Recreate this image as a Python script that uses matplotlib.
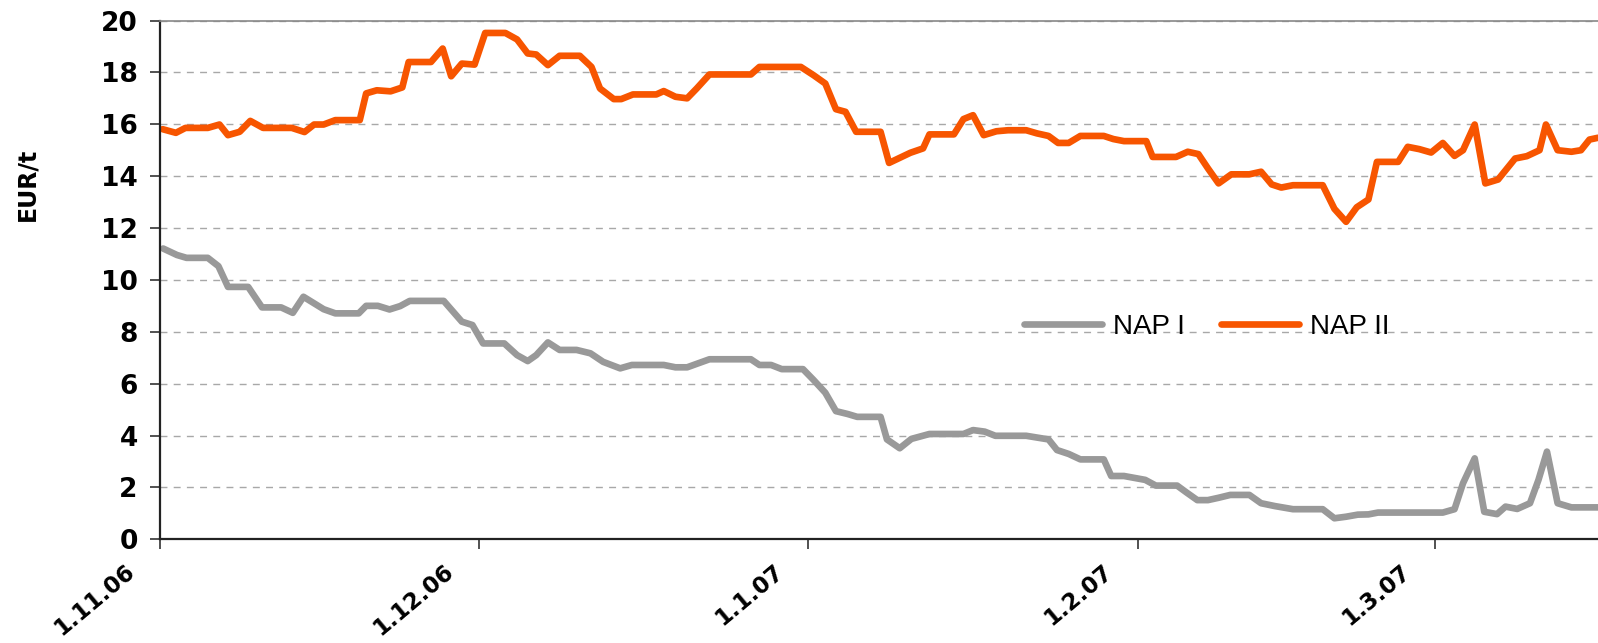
import matplotlib
matplotlib.use("Agg")
import matplotlib.pyplot as plt
from matplotlib.transforms import ScaledTranslation

# days since 1.11.06 and EUR/t values
nap2_day = [0.25, 1.5, 2.4, 4.5, 5.6, 6.4, 7.5, 8.5, 9.7, 12.4, 13.6, 14.5, 15.4, 16.5, 18.8,
            19.4, 20.4, 21.7, 22.8, 23.4, 25.5, 26.6, 27.4, 28.4, 29.6, 30.6, 32.5, 33.6, 34.6,
            35.4, 36.5, 37.6, 39.5, 40.6, 41.4, 42.7, 43.4, 44.5, 46.7, 47.4, 48.5, 49.6, 50.5,
            51.7, 55.6, 56.4, 60.3, 61.5, 62.6, 63.6, 64.5, 65.5, 67.8, 68.6, 70.6, 71.8, 72.4,
            74.7, 75.6, 76.5, 77.5, 78.7, 79.8, 81.5, 82.5, 83.6, 84.5, 85.5, 86.6, 88.8, 89.7,
            90.7, 92.8, 93.4, 95.6, 96.7, 97.7, 98.6, 99.6, 100.8, 102.5, 103.6, 104.6, 105.5,
            106.6, 109.4, 110.5, 111.6, 112.6, 113.7, 114.5, 116.5, 117.4, 118.5, 119.6, 120.7,
            121.8, 122.6, 123.7, 124.7, 125.9, 127.5, 128.6, 129.8, 130.4, 131.5, 132.8, 133.7,
            134.5, 135.3]
nap2_val = [15.81, 15.67, 15.86, 15.86, 15.99, 15.58, 15.71, 16.13, 15.86, 15.86, 15.70, 15.99,
            15.99, 16.16, 16.16, 17.19, 17.31, 17.27, 17.42, 18.40, 18.40, 18.92, 17.85, 18.34,
            18.30, 19.52, 19.52, 19.27, 18.73, 18.69, 18.28, 18.64, 18.64, 18.21, 17.38, 16.97,
            16.97, 17.15, 17.15, 17.28, 17.06, 17.00, 17.38, 17.92, 17.92, 18.21, 18.21, 17.89,
            17.57, 16.58, 16.48, 15.71, 15.71, 14.51, 14.90, 15.07, 15.61, 15.61, 16.20, 16.35,
            15.58, 15.73, 15.77, 15.77, 15.65, 15.55, 15.28, 15.28, 15.55, 15.55, 15.43, 15.35,
            15.35, 14.74, 14.74, 14.94, 14.85, 14.30, 13.72, 14.07, 14.07, 14.17, 13.68, 13.56,
            13.65, 13.65, 12.74, 12.24, 12.80, 13.10, 14.55, 14.55, 15.13, 15.04, 14.91, 15.28,
            14.78, 15.00, 15.99, 13.72, 13.87, 14.68, 14.77, 15.00, 15.99, 15.00, 14.94, 15.00,
            15.41, 15.48]

nap1_day = [0.3, 1.6, 2.5, 4.5, 5.5, 6.4, 8.3, 9.6, 11.4, 12.5, 13.5, 15.4, 16.5, 18.7, 19.4,
            20.5, 21.6, 22.6, 23.5, 26.7, 28.4, 29.4, 30.4, 32.4, 33.6, 34.6, 35.4, 36.5, 37.6,
            39.2, 40.5, 41.7, 43.3, 44.4, 47.4, 48.5, 49.6, 51.7, 55.6, 56.4, 57.5, 58.5, 60.5,
            61.5, 62.6, 63.6, 64.7, 65.6, 67.8, 68.4, 69.6, 70.7, 72.4, 75.6, 76.5, 77.6, 78.6,
            81.5, 83.6, 84.4, 85.5, 86.6, 88.8, 89.5, 90.7, 92.7, 93.7, 95.7, 96.6, 97.6, 98.6,
            99.6, 100.7, 102.5, 103.6, 104.9, 106.6, 109.4, 110.5, 111.6, 112.7, 113.7, 114.6,
            120.7, 121.8, 122.6, 123.7, 124.6, 125.8, 126.6, 127.7, 128.9, 129.7, 130.5, 131.5,
            132.8, 135.3]
nap1_val = [11.21, 10.96, 10.85, 10.85, 10.53, 9.73, 9.73, 8.94, 8.94, 8.73, 9.35, 8.87, 8.71,
            8.71, 9.00, 9.00, 8.86, 8.99, 9.19, 9.19, 8.39, 8.26, 7.55, 7.55, 7.10, 6.87, 7.10,
            7.59, 7.30, 7.30, 7.17, 6.84, 6.59, 6.72, 6.72, 6.63, 6.63, 6.94, 6.94, 6.72, 6.72,
            6.56, 6.56, 6.14, 5.65, 4.94, 4.83, 4.72, 4.72, 3.85, 3.51, 3.87, 4.06, 4.06, 4.21,
            4.15, 3.99, 3.99, 3.85, 3.44, 3.29, 3.08, 3.08, 2.44, 2.44, 2.29, 2.07, 2.07, 1.80,
            1.51, 1.51, 1.60, 1.71, 1.71, 1.39, 1.28, 1.16, 1.16, 0.81, 0.87, 0.95, 0.96, 1.03,
            1.03, 1.16, 2.16, 3.12, 1.06, 0.97, 1.26, 1.17, 1.39, 2.29, 3.38, 1.39, 1.23, 1.23]

tick_days = [0, 30, 61, 92, 120]
tick_labels = ["1.11.06", "1.12.06", "1.1.07", "1.2.07", "1.3.07"]

fig = plt.figure(figsize=(15.98, 6.43), dpi=100)
ax = fig.add_axes([0.1001, 0.1613, 0.8999, 0.8068])

ax.plot(nap1_day, nap1_val, color="#999999", lw=4.8, solid_joinstyle="round",
        solid_capstyle="round", label="NAP I")
ax.plot(nap2_day, nap2_val, color="#F75500", lw=4.8, solid_joinstyle="round",
        solid_capstyle="round", label="NAP II")

ax.set_xlim(0, 135.3)
ax.set_ylim(0, 20)
ax.set_yticks(range(0, 21, 2))
ax.yaxis.grid(True, color="#A8A8A8", lw=1.0, linestyle=(0, (5, 4.5)))
ax.set_axisbelow(True)

ax.spines["right"].set_visible(False)
ax.spines["top"].set_color("#888888")
ax.spines["top"].set_linewidth(1.2)
for s in ("left", "bottom"):
    ax.spines[s].set_color("#222222")
    ax.spines[s].set_linewidth(1.6)

ax.tick_params(axis="both", direction="out", length=7, width=1.2, color="#333333")
ax.tick_params(axis="y", pad=9)
for lab in ax.get_yticklabels():
    lab.set_fontfamily("DejaVu Sans")
    lab.set_fontweight("bold")
    lab.set_fontsize(19)

ax.set_xticks(tick_days)
ax.set_xticklabels(tick_labels, rotation=40, ha="right", va="center",
                   rotation_mode="anchor", fontsize=16.5, fontweight="bold",
                   fontfamily="DejaVu Sans")
offset = ScaledTranslation(-0.28, -0.15, fig.dpi_scale_trans)
for lab in ax.get_xticklabels():
    lab.set_transform(lab.get_transform() + offset)

ax.set_ylabel("EUR/t", fontsize=17, fontweight="bold", fontfamily="DejaVu Sans")
ax.yaxis.set_label_coords(-0.084, 0.685)

ax.legend(loc="center", bbox_to_anchor=(0.728, 0.41), ncol=2, frameon=False,
          prop={"family": "Liberation Sans", "size": 20}, handlelength=2.8,
          handletextpad=0.4, columnspacing=1.3)

fig.savefig("out.png", dpi=100)
